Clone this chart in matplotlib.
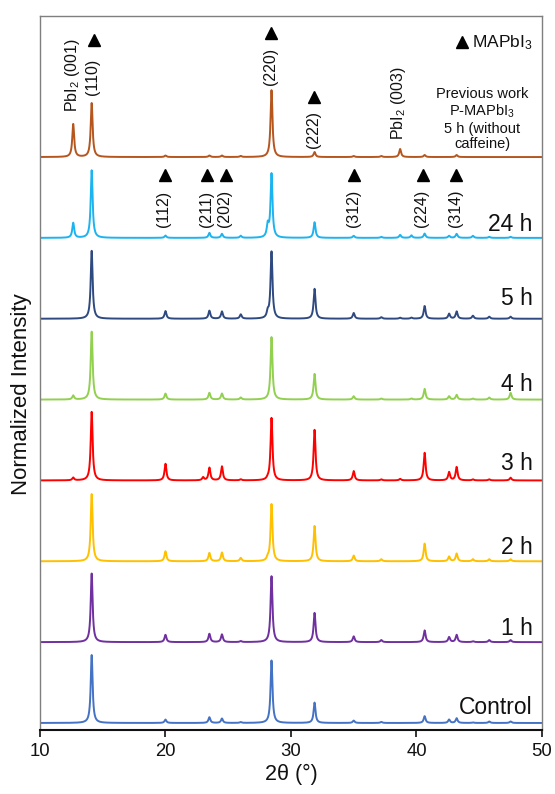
import numpy as np
import matplotlib
matplotlib.use("Agg")
import matplotlib.pyplot as plt

plt.rcParams['font.family'] = ['Liberation Sans', 'DejaVu Sans']
plt.rcParams['mathtext.fontset'] = 'custom'
plt.rcParams['mathtext.rm'] = 'Liberation Sans'
plt.rcParams['mathtext.it'] = 'Liberation Sans:italic'
plt.rcParams['mathtext.bf'] = 'Liberation Sans:bold'

# Reflection positions (2theta, degrees)
peak_pos = [12.65, 14.12, 20.0, 23.0, 23.5, 24.5, 26.0, 28.15, 28.45, 31.88,
            35.0, 37.2, 38.7, 39.6, 40.65, 42.6, 43.2, 44.5, 45.8, 47.5]

# Normalized peak intensities for each pattern (bottom to top)
control = [0, 1.00, 0.05, 0, 0.084, 0.065, 0.012, 0, 0.92, 0.30,
           0.035, 0.015, 0, 0, 0.10, 0.05, 0.07, 0.008, 0.022, 0.022]
h1 = [0, 1.01, 0.107, 0, 0.122, 0.113, 0.015, 0, 0.97, 0.43,
      0.084, 0.03, 0, 0, 0.172, 0.074, 0.107, 0.012, 0.03, 0.03]
h2 = [0, 0.99, 0.147, 0, 0.122, 0.128, 0.049, 0.04, 0.84, 0.52,
      0.084, 0.03, 0, 0, 0.26, 0.069, 0.113, 0.03, 0.03, 0.03]
h3 = [0.04, 1.01, 0.245, 0.044, 0.187, 0.206, 0.015, 0.015, 0.92, 0.745,
      0.137, 0.015, 0.022, 0, 0.407, 0.122, 0.196, 0.015, 0.015, 0.04]
h4 = [0.059, 1.00, 0.088, 0, 0.099, 0.088, 0.03, 0, 0.92, 0.378,
      0.049, 0.015, 0, 0.015, 0.157, 0.049, 0.069, 0.015, 0.03, 0.099]
h5 = [0, 1.00, 0.113, 0, 0.118, 0.107, 0.063, 0.084, 0.985, 0.44,
      0.084, 0.022, 0.015, 0.015, 0.187, 0.074, 0.107, 0.044, 0.03, 0.03]
h24 = [0.22, 0.995, 0.034, 0, 0.074, 0.059, 0.03, 0.176, 0.94, 0.23,
       0.03, 0.015, 0.044, 0.037, 0.063, 0.03, 0.059, 0.03, 0.015, 0.015]
previous = [0.485, 0.794, 0.022, 0, 0.022, 0.022, 0.015, 0, 0.985, 0.074,
            0.015, 0.015, 0.118, 0, 0.03, 0, 0.03, 0, 0, 0]

patterns = [control, h1, h2, h3, h4, h5, h24, previous]
sample_labels = ['Control', '1 h', '2 h', '3 h', '4 h', '5 h', '24 h', '']
colors = ['#4472C4', '#7030A0', '#FFC000', '#FF0000', '#92D050',
          '#2F4A80', '#1CB4F0', '#B5561F']
label_lift = [0.11, 0.09, 0.09, 0.13, 0.11, 0.17, 0.08, 0]

scale = 0.84        # height of a full-scale peak, in stack units
fwhm = 0.18         # peak width, degrees

tt = np.arange(10.0, 50.0001, 0.01)


def profile(heights):
    g = fwhm / 2.0
    y = np.zeros_like(tt)
    for p, h in zip(peak_pos, heights):
        if h > 0:
            y += h / (1.0 + ((tt - p) / g) ** 2)
    return y


fig = plt.figure(figsize=(5.55, 7.94), dpi=100)
ax = fig.add_axes([0.072, 0.0806, 0.9045, 0.8992])

for i, (hts, col) in enumerate(zip(patterns, colors)):
    ax.plot(tt, i + scale * profile(hts), color=col, lw=1.4,
            solid_joinstyle='round')
    if sample_labels[i]:
        ax.text(49.25, i + label_lift[i], sample_labels[i], ha='right',
                va='baseline', fontsize=16.5, color='#111111')

ax.set_xlim(10, 50)
ax.set_ylim(-0.087, 8.744)
ax.set_xticks([10, 20, 30, 40, 50])
ax.set_yticks([])
ax.tick_params(axis='x', direction='out', length=5, width=1.2,
               labelsize=13.3, pad=4, colors='#111111')
for side in ('left', 'right', 'top'):
    ax.spines[side].set_color('#7f7f7f')
    ax.spines[side].set_linewidth(1.0)
ax.spines['bottom'].set_color('#111111')
ax.spines['bottom'].set_linewidth(1.5)

ax.set_xlabel('2θ (°)', fontsize=15.5, labelpad=3, color='#111111')
ax.set_ylabel('Normalized Intensity', fontsize=16, color='#111111',
              va='center')
ax.yaxis.set_label_coords(-0.037, 0.47)

# Reflection annotations
tri = dict(marker='^', color='black', markersize=9, linestyle='none')
ann = dict(rotation=90, ha='center', va='bottom', fontsize=11.5,
           color='#111111')

# top pattern (previous work)
ax.text(12.63, 7.56, 'PbI$_2$ (001)', **ann)
ax.text(14.22, 7.77, '(110)', **ann)
ax.plot([14.3], [8.45], **tri)
ax.text(28.38, 7.89, '(220)', **ann)
ax.plot([28.38], [8.53], **tri)
ax.text(31.8, 7.11, '(222)', **ann)
ax.plot([31.8], [7.74], **tri)
ax.text(38.56, 7.21, 'PbI$_2$ (003)', **ann)

ax.plot([43.65], [8.42], **tri)
ax.text(44.45, 8.42, 'MAPbI$_3$', ha='left', va='center', fontsize=12.5,
        color='#111111')
ax.text(45.25, 7.47, 'Previous work\nP-MAPbI$_3$\n5 h (without\ncaffeine)',
        ha='center', va='center', multialignment='center', fontsize=10.5,
        linespacing=1.15, color='#111111')

# 24 h pattern
hkl_x = [19.94, 23.34, 24.8, 35.06, 40.5, 43.15]
hkl_txt = ['(112)', '(211)', '(202)', '(312)', '(224)', '(314)']
for xv, s in zip(hkl_x, hkl_txt):
    ax.text(xv - 0.06, 6.13, s, **ann)
    ax.plot([xv], [6.78], **tri)

fig.savefig('out.png', dpi=100)
